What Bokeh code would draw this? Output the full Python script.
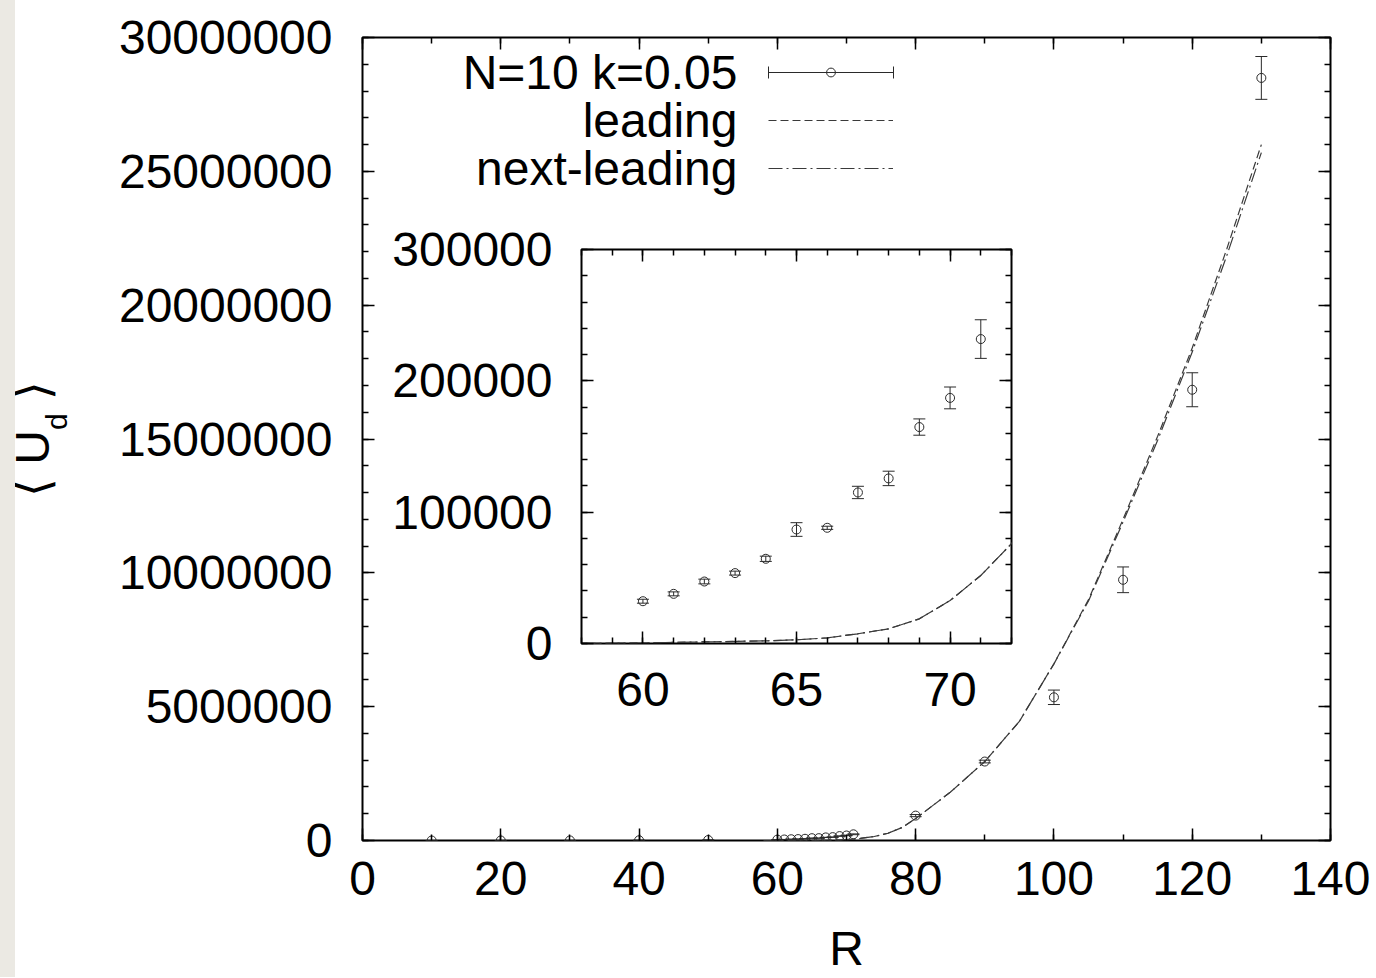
from bokeh.plotting import figure
from bokeh.models import (Range1d, SingleIntervalTicker, LinearAxis, BasicTickFormatter,
                          CustomJSTickFormatter, Whisker, TeeHead, ColumnDataSource, Legend,
                          LegendItem, Label, Arrow, Div)
from bokeh.layouts import column
from bokeh.embed import file_html
from bokeh.resources import INLINE

# ---------------- data ----------------
R_small = [10, 20, 30, 40, 50]
U_small = [20, 400, 2500, 8000, 18000]
E_small = [5, 50, 200, 500, 800]

R_inset = [60, 61, 62, 63, 64, 65, 66, 67, 68, 69, 70, 71]
U_inset = [32200, 37800, 47200, 53600, 64500, 86800, 88100, 115000, 125700, 164800, 187000, 231800]
E_inset = [1500, 1500, 1800, 1500, 2000, 5200, 1200, 4700, 5500, 6200, 8300, 14700]

R_large = [80, 90, 100, 110, 120, 130]
U_large = [930000, 2950000, 5350000, 9740000, 16840000, 28490000]
E_large = [40000, 50000, 270000, 480000, 635000, 800000]

R_curve = [58, 60, 62, 64, 65, 66, 67, 68, 69, 70, 71, 72, 74, 76, 78, 80, 85, 90,
           95, 100, 105, 110, 115, 120, 125, 130]
U_leading = [0, 500, 1200, 2000, 2800, 4300, 7400, 11200, 18800, 32700, 51800, 76000,
             150000, 270000, 480000, 820000, 1800000, 2950000, 4450000, 6600000,
             9000000, 12000000, 15100000, 18400000, 22100000, 26000000]
U_next = [0, 500, 1200, 2000, 2800, 4300, 7400, 11200, 18800, 32700, 51800, 76000,
          150000, 270000, 480000, 820000, 1800000, 2950000, 4450000, 6600000,
          8950000, 11900000, 14950000, 18250000, 21850000, 25700000]

legend_labels = ["N=10 k=0.05", "leading", "next-leading"]
x_title = "R"

FONT = "Liberation Sans"
INK = "#2a2a2a"

# layout (page pixels)
ML, MR, MT, MB = 362, 40, 37, 136          # main borders
FW, FH = 968, 803                           # main frame
IFW, IFH = 430, 394                         # inset frame
INSET_LEFT, INSET_TOP = 581, 249            # inset frame position on page


def make_source(xs, ys, es):
    return ColumnDataSource(dict(x=xs, y=ys,
                                 lo=[y - e for y, e in zip(ys, es)],
                                 hi=[y + e for y, e in zip(ys, es)]))


def style_axis(ax, show, standoff):
    ax.axis_line_color = None
    ax.major_tick_in = 12
    ax.major_tick_out = 0
    ax.minor_tick_in = 6
    ax.minor_tick_out = 0
    ax.major_tick_line_width = 1.5
    ax.minor_tick_line_width = 1.5
    ax.major_tick_line_color = "black"
    ax.minor_tick_line_color = "black"
    ax.major_label_text_font = FONT
    ax.major_label_text_color = "black"
    ax.major_label_text_font_size = "48px"
    ax.major_label_standoff = standoff
    if not show:
        ax.formatter = CustomJSTickFormatter(code="return ''")


def add_axes(fig, xint, xminor, yint, yminor, xstand, ystand):
    axes = {}
    for side, show in (("below", True), ("above", False)):
        ax = LinearAxis(ticker=SingleIntervalTicker(interval=xint, num_minor_ticks=xminor),
                        formatter=BasicTickFormatter(use_scientific=False))
        style_axis(ax, show, xstand)
        fig.add_layout(ax, side)
        axes[side] = ax
    for side, show in (("left", True), ("right", False)):
        ax = LinearAxis(ticker=SingleIntervalTicker(interval=yint, num_minor_ticks=yminor),
                        formatter=BasicTickFormatter(use_scientific=False))
        style_axis(ax, show, ystand)
        fig.add_layout(ax, side)
        axes[side] = ax
    return axes


def draw_data(fig, src, xs, lead, nxt):
    seg = fig.segment(x0="x", y0="lo", x1="x", y1="hi", source=src,
                      line_color=INK, line_width=1)
    fig.add_layout(Whisker(source=src, base="x", upper="hi", lower="lo", dimension="height",
                           line_alpha=0,
                           upper_head=TeeHead(size=12, line_color=INK, line_width=1),
                           lower_head=TeeHead(size=12, line_color=INK, line_width=1)))
    circ = fig.scatter("x", "y", source=src, marker="circle", size=9, fill_color=None,
                       line_color=INK, line_width=1)
    l1 = fig.line(xs, lead, line_color="#3a3a3a", line_width=1.2, line_dash="8 4")
    l2 = fig.line(xs, nxt, line_color="#3a3a3a", line_width=1.2, line_dash="14 4 2 4")
    return seg, circ, l1, l2


# ---------------- main figure ----------------
p = figure(frame_width=FW, frame_height=FH,
           min_border_left=ML, min_border_right=MR, min_border_top=MT, min_border_bottom=MB,
           x_range=Range1d(0, 140), y_range=Range1d(0, 30000000),
           x_axis_type=None, y_axis_type=None,
           output_backend="svg", toolbar_location=None)
p.outline_line_color = "black"
p.outline_line_width = 2
p.background_fill_color = "white"
p.border_fill_color = "white"
axes = add_axes(p, 20, 2, 5000000, 5, 21, 30)
axes["below"].axis_label = x_title
axes["below"].axis_label_text_font = FONT
axes["below"].axis_label_text_font_size = "48px"
axes["below"].axis_label_text_font_style = "normal"
axes["below"].axis_label_text_color = "black"
axes["below"].axis_label_standoff = 24

src_main = make_source(R_small + R_inset + R_large, U_small + U_inset + U_large,
                       E_small + E_inset + E_large)
seg, circ, lead_r, next_r = draw_data(p, src_main, R_curve, U_leading, U_next)

# legend: samples from Bokeh's legend, texts right-aligned to their left (gnuplot style)
legend = Legend(items=[LegendItem(label=" ", renderers=[seg, circ]),
                       LegendItem(label=" ", renderers=[lead_r]),
                       LegendItem(label=" ", renderers=[next_r])],
                location=(406, 661), glyph_width=125, glyph_height=22, label_height=10,
                label_text_font_size="10px", label_standoff=0,
                spacing=26, padding=0, margin=0,
                border_line_color=None, background_fill_alpha=0)
p.add_layout(legend)
for i, txt in enumerate(legend_labels):
    p.add_layout(Label(x=375, y=768 - 48 * i, x_units="screen", y_units="screen", text=txt,
                       text_font=FONT, text_font_size="48px", text_color="black",
                       text_align="right", text_baseline="middle"))

# error-bar end caps of the first legend sample
p.add_layout(Arrow(x_start=406, y_start=768, x_end=531, y_end=768,
                   start_units="screen", end_units="screen", line_alpha=0,
                   start=TeeHead(size=12, line_color=INK, line_width=1),
                   end=TeeHead(size=12, line_color=INK, line_width=1)))

# ---------------- inset ----------------
q = figure(frame_width=IFW, frame_height=IFH,
           min_border_left=ML, min_border_right=MR, min_border_top=30, min_border_bottom=80,
           x_range=Range1d(58, 72), y_range=Range1d(0, 300000),
           x_axis_type=None, y_axis_type=None,
           output_backend="svg", toolbar_location=None)
q.outline_line_color = "black"
q.outline_line_width = 2
q.background_fill_color = "white"
q.border_fill_alpha = 0
add_axes(q, 5, 5, 100000, 5, 29, 29)
src_inset = make_source(R_inset, U_inset, E_inset)
draw_data(q, src_inset, R_curve, U_leading, U_next)
q.styles = {"position": "absolute", "left": f"{INSET_LEFT - ML}px",
            "top": f"{INSET_TOP - 30}px"}

# ---------------- y-axis title  < U_d >  ----------------
ylab = Div(text=('<span>⟨</span>&nbsp;U<span style="font-size:30px;position:relative;'
                 'top:18px">d</span>&nbsp;<span>⟩</span>'),
           width=140, height=60, margin=0,
           styles={"position": "absolute", "left": "-37px", "top": "409px",
                   "transform": "rotate(-90deg)", "font-size": "48px",
                   "font-family": FONT, "color": "black", "text-align": "center",
                   "line-height": "60px", "white-space": "nowrap"})

strip = Div(text="", width=15, height=978, margin=0,
            styles={"position": "absolute", "left": "0px", "top": "0px",
                    "background-color": "#ebe9e3"})

layout = column(p, q, ylab, strip)
open("out.html", "w").write(file_html(layout, INLINE))
